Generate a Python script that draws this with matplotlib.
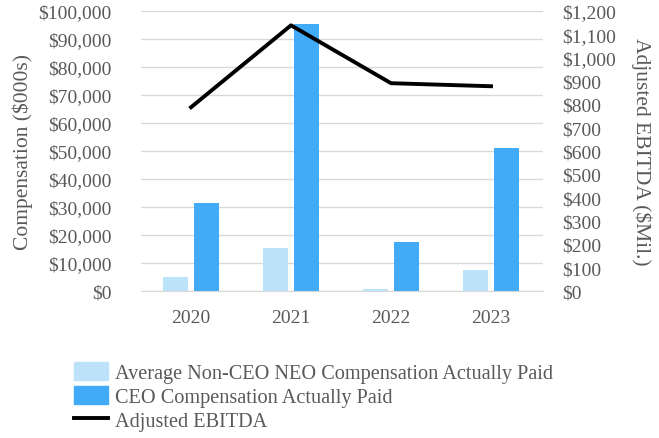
import numpy as np
import matplotlib
matplotlib.use('Agg')
import matplotlib.pyplot as plt
from matplotlib.ticker import FuncFormatter
from matplotlib.patches import Patch
from matplotlib.lines import Line2D

# données
years = ['2020', '2021', '2022', '2023']
neo_cap = [5000, 15200, 800, 7400]        # $000s
ceo_cap = [31300, 95400, 17600, 51200]    # $000s
ebitda = [787, 1138, 890, 877]            # $Mil.

plt.rcParams['font.family'] = ['Liberation Serif', 'DejaVu Serif']
grey = '#595959'
light = '#BDE3FB'
dark = '#41ABF7'

fig = plt.figure(figsize=(6.59, 4.39), dpi=100)
ax = fig.add_axes([0.214, 0.335, 0.61, 0.638])
x = np.arange(len(years))
w = 0.25
ax.bar(x - 0.155, neo_cap, width=w, color=light, zorder=2)
ax.bar(x + 0.155, ceo_cap, width=w, color=dark, zorder=2)

ax.set_xlim(-0.5, 3.52)
ax.set_ylim(0, 100000)
ax.set_yticks(range(0, 100001, 10000))
ax.yaxis.set_major_formatter(FuncFormatter(lambda v, p: f'${v:,.0f}'))
ax.set_xticks(x)
ax.set_xticklabels(years)
ax.grid(axis='y', color='#D9D9D9', linewidth=1, zorder=0)
for s in ['top', 'right', 'left']:
    ax.spines[s].set_visible(False)
ax.spines['bottom'].set_color('#D9D9D9')
ax.tick_params(axis='both', length=0, colors=grey, labelsize=14)
ax.tick_params(axis='y', pad=21)
ax.tick_params(axis='x', pad=13)
ax.set_ylabel('Compensation ($000s)', fontsize=15.5, color=grey, labelpad=4)

ax2 = ax.twinx()
ax2.plot(x, ebitda, color='black', linewidth=2.8, zorder=3)
ax2.set_ylim(0, 1200)
ax2.set_yticks(range(0, 1201, 100))
ax2.yaxis.set_major_formatter(FuncFormatter(lambda v, p: f'${v:,.0f}'))
for s in ['top', 'right', 'left', 'bottom']:
    ax2.spines[s].set_visible(False)
ax2.tick_params(axis='y', length=0, colors=grey, labelsize=14, pad=14)
ax2.set_ylabel('Adjusted EBITDA ($Mil.)', fontsize=15.5, color=grey, rotation=270, labelpad=25)

handles = [Patch(color=light), Patch(color=dark), Line2D([0], [0], color='black', linewidth=2.8)]
labels = ['Average Non-CEO NEO Compensation Actually Paid', 'CEO Compensation Actually Paid', 'Adjusted EBITDA']
leg = fig.legend(handles, labels, loc='upper left', bbox_to_anchor=(0.112, 0.174), frameon=False,
                 fontsize=14.6, handlelength=1.68, handleheight=1.03, handletextpad=0.35, labelspacing=0.15,
                 borderaxespad=0, borderpad=0)
for t in leg.get_texts():
    t.set_color(grey)

fig.savefig('out.png', dpi=100)
